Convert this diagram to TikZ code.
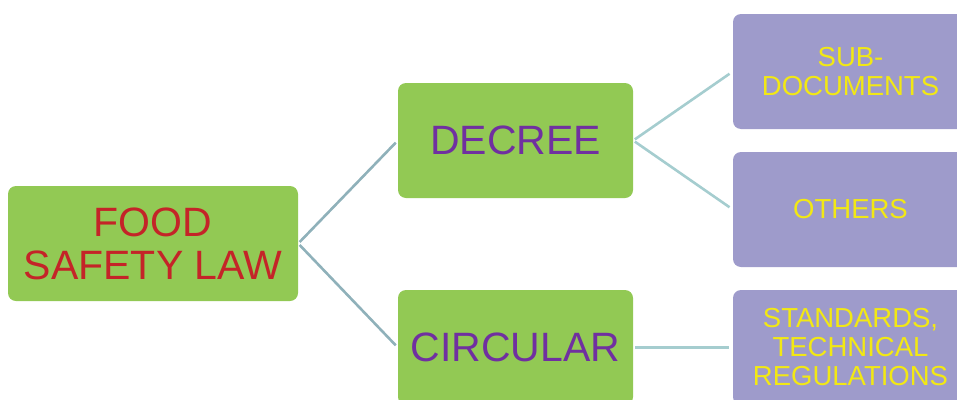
\documentclass[tikz,border=0pt]{standalone}
\usepackage{fontspec}
\setmainfont{Liberation Sans}
\usetikzlibrary{positioning}
\definecolor{LeafGreen}{RGB}{146,201,84}
\definecolor{LawRed}{RGB}{196,36,40}
\definecolor{PlumText}{RGB}{112,48,160}
\definecolor{Lavender}{RGB}{158,155,203}
\definecolor{LemonText}{RGB}{242,232,20}
\definecolor{SlateLine}{RGB}{143,177,186}
\definecolor{TealLine}{RGB}{165,205,207}
\tikzset{
  rootbox/.style={rectangle,rounded corners=8pt,fill=LeafGreen,text=LawRed,
    minimum width=290pt,minimum height=115pt,align=center,
    font=\fontsize{41}{43}\selectfont},
  midbox/.style={rectangle,rounded corners=8pt,fill=LeafGreen,text=PlumText,
    minimum width=235pt,minimum height=115pt,align=center,
    font=\fontsize{41}{43}\selectfont},
  leafbox/.style={rectangle,rounded corners=8pt,fill=Lavender,text=LemonText,
    minimum width=235pt,minimum height=115pt,align=center,
    font=\fontsize{27.5}{29}\selectfont},
  trunk/.style={draw=SlateLine,line width=2.6pt,shorten <=2pt,shorten >=3pt},
  twig/.style={draw=TealLine,line width=2.6pt,shorten <=2pt,shorten >=4pt},
}

\begin{document}
\begin{tikzpicture}[x=1pt,y=-1pt]
\useasboundingbox (0,0) rectangle (957,399);
\clip (0,0) rectangle (957,399);
\node[rootbox] (law) at (153,243.5) {FOOD\\SAFETY LAW};
\node[midbox] (decree) at (515.5,140.5) {DECREE};
\node[midbox] (circular) at (515.5,347.5) {CIRCULAR};
\node[leafbox] (subdocs) at (850.5,71.5) {SUB-\\DOCUMENTS};
\node[leafbox] (others) at (850.5,209.5) {OTHERS};
\node[leafbox] (standards) at (850.5,347.5) {STANDARDS,\\TECHNICAL\\REGULATIONS};
\draw[trunk] (law.east) -- (decree.west);
\draw[trunk] (law.east) -- (circular.west);
\draw[twig] (decree.east) -- (subdocs.west);
\draw[twig] (decree.east) -- (others.west);
\draw[twig] (circular.east) -- (standards.west);
\end{tikzpicture}
\end{document}
